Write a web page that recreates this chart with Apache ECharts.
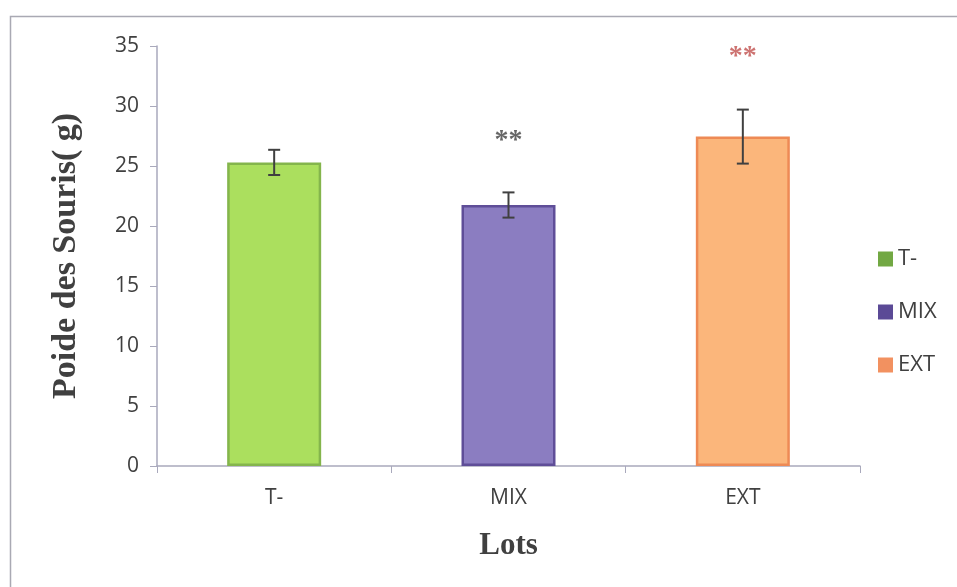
<!DOCTYPE html>
<html>
<head>
<meta charset="utf-8">
<script src="https://cdn.jsdelivr.net/npm/echarts@6/dist/echarts.min.js"></script>
<style>
html,body{margin:0;padding:0;background:#fff;}
#c{width:957px;height:587px;}
</style>
</head>
<body>
<div id="c"></div>
<script>
var categories = ['T-', 'MIX', 'EXT'];
var means = [25.3, 21.75, 27.45];
var errors = [1.05, 1.05, 2.25];
var starLabels = ['', '**', '**'];
var starLevels = [null, 27.1, 34.1];
var yTicks = [0, 5, 10, 15, 20, 25, 30, 35];

var fills = ['#abdf5e', '#8b7dc1', '#fbb67b'];
var borders = ['#84b54c', '#5f4e98', '#ee8a55'];
var legendColors = ['#72a843', '#5b4a96', '#f29160'];
var starColors = ['#404040', '#404040', '#c0504d'];

var chart = echarts.init(document.getElementById('c'));

var series = categories.map(function (name, i) {
  var d = categories.map(function (c, j) { return j === i ? means[i] : '-'; });
  return {
    name: name,
    type: 'bar',
    data: d,
    barWidth: 94,
    barGap: '-100%',
    itemStyle: { color: fills[i], borderColor: borders[i], borderWidth: 2.5 }
  };
});

series.push({
  type: 'custom',
  name: 'err',
  z: 10,
  data: categories.map(function (c, i) { return [i, means[i] - errors[i], means[i] + errors[i]]; }),
  renderItem: function (params, api) {
    var lo = api.coord([api.value(0), api.value(1)]);
    var hi = api.coord([api.value(0), api.value(2)]);
    var x = lo[0], w = 6;
    var st = { stroke: '#404040', lineWidth: 2 };
    return {
      type: 'group',
      children: [
        { type: 'line', shape: { x1: x, y1: lo[1], x2: x, y2: hi[1] }, style: st },
        { type: 'line', shape: { x1: x - w, y1: lo[1], x2: x + w, y2: lo[1] }, style: st },
        { type: 'line', shape: { x1: x - w, y1: hi[1], x2: x + w, y2: hi[1] }, style: st }
      ]
    };
  },
  silent: true
});

series.push({
  type: 'scatter',
  name: 'stars',
  symbolSize: 0,
  silent: true,
  data: categories.map(function (c, i) {
    return starLevels[i] == null ? null : {
      value: [i, starLevels[i]],
      label: {
        show: true, formatter: starLabels[i], position: 'inside',
        color: starColors[i], fontSize: 28, fontFamily: 'Liberation Serif', fontWeight: 'bold'
      }
    };
  }).filter(function (d) { return d; })
});

chart.setOption({
  animation: false,
  backgroundColor: '#ffffff',
  graphic: [{
    type: 'rect',
    shape: { x: 10.5, y: 16.5, width: 1000, height: 700 },
    style: { fill: 'none', stroke: '#a9a9b3', lineWidth: 1.5 },
    silent: true
  }],
  legend: {
    orient: 'vertical',
    left: 873,
    top: 243,
    data: categories.map(function (c, i) {
      return { name: c, itemStyle: { color: legendColors[i], borderWidth: 0 } };
    }),
    icon: 'rect',
    itemWidth: 15,
    itemHeight: 15,
    itemGap: 31,
    textStyle: { fontFamily: 'Open Sans', fontSize: 22, color: '#404040', lineHeight: 18 }
  },
  grid: { left: 157, right: 97, top: 46, bottom: 121 },
  xAxis: {
    type: 'category',
    data: categories,
    name: 'Lots',
    nameLocation: 'middle',
    nameGap: 64,
    nameTextStyle: { fontFamily: 'Liberation Serif', fontWeight: 'bold', fontSize: 31, color: '#404040' },
    axisLine: { lineStyle: { color: '#a9a9bc', width: 1.5 } },
    axisTick: { show: true, length: 7, lineStyle: { color: '#a9a9bc' } },
    axisLabel: { margin: 22, fontFamily: 'Open Sans', fontSize: 21, color: '#404040' }
  },
  yAxis: {
    type: 'value',
    min: yTicks[0],
    max: yTicks[yTicks.length - 1],
    interval: 5,
    name: 'Poide des Souris( g)',
    nameLocation: 'middle',
    nameGap: 74,
    nameTextStyle: { fontFamily: 'Liberation Serif', fontWeight: 'bold', fontSize: 34, color: '#404040' },
    axisLine: { show: true, lineStyle: { color: '#a9a9bc', width: 1.5 } },
    axisTick: { show: true, length: 7, lineStyle: { color: '#a9a9bc' } },
    splitLine: { show: false },
    axisLabel: { margin: 18, fontFamily: 'Open Sans', fontSize: 21, color: '#404040' }
  },
  series: series
});
</script>
</body>
</html>
